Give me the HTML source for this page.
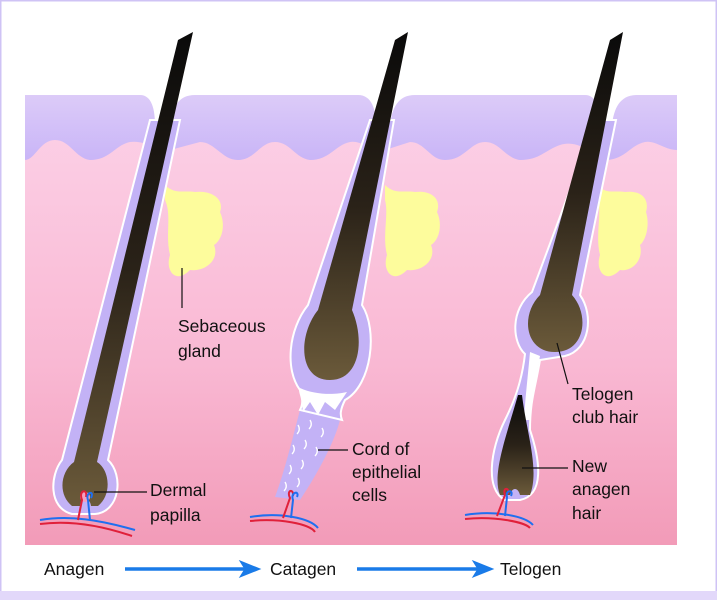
<!DOCTYPE html>
<html><head><style>
html,body{margin:0;padding:0;background:#fff}
svg{display:block}
text{font-family:"Liberation Sans",sans-serif;font-size:17.5px;fill:#111}
</style></head><body>
<svg width="717" height="600" viewBox="0 0 717 600" xmlns="http://www.w3.org/2000/svg">
<defs>
<linearGradient id="pk" x1="0" y1="0" x2="0" y2="1">
<stop offset="0" stop-color="#fcd2e8"/><stop offset="0.6" stop-color="#f9b8d3"/><stop offset="1" stop-color="#f29bb8"/>
</linearGradient>
<linearGradient id="lv" x1="0" y1="0" x2="0" y2="1">
<stop offset="0" stop-color="#dccbf8"/><stop offset="1" stop-color="#c9b5f7"/>
</linearGradient>
<linearGradient id="hr" x1="0" y1="0" x2="0" y2="1">
<stop offset="0" stop-color="#0a0a0a"/><stop offset="0.5" stop-color="#2a2218"/><stop offset="1" stop-color="#6b5a3a"/>
</linearGradient>
</defs>
<rect x="0.5" y="0.5" width="716" height="599" fill="#fff" stroke="#cfc3f5" stroke-width="2"/>
<rect x="0" y="591" width="717" height="9" fill="#e2d8fa"/>
<rect x="25" y="95" width="652" height="450" fill="url(#pk)"/>
<path d="M25 95 H677 V150 C665 150 655 140 645 142 C630 145 625 160 605 160 L600 160 C590 150 575 140 560 145 C545 150 540 160 520 160 C505 158 500 142 485 142 C470 142 465 160 445 160 C430 160 425 142 410 142 L385 150 C370 150 360 140 350 142 C335 145 330 160 310 160 C295 158 290 142 275 142 C260 142 255 160 238 160 C222 160 215 142 200 142 L170 150 C155 150 145 140 130 142 C115 145 110 160 90 160 C75 158 70 140 55 140 C40 140 35 160 25 160 Z" fill="url(#lv)"/>
<path d="M140 95 C152 95 155 110 155 125 L170 125 C172 108 178 95 195 95 Z" fill="#fff"/>
<path d="M358 95 C372 95 376 110 376 125 L390 125 C392 108 398 95 415 95 Z" fill="#fff"/>
<path d="M585 95 C597 95 600 110 600 125 L612 125 C614 108 620 95 637 95 Z" fill="#fff"/>
<g fill="#fdfc9c">
<path d="M165 185 C175 195 185 190 195 192 C210 190 225 198 220 212 C226 225 222 240 214 245 C220 260 205 272 190 270 C175 285 165 270 170 255 C165 235 172 215 165 200 Z"/>
<path d="M385 185 C395 195 405 190 415 192 C430 190 442 198 437 212 C443 225 439 240 431 245 C437 260 422 272 407 270 C392 285 382 270 387 255 C382 235 389 215 385 200 Z"/>
<path d="M598 185 C606 195 615 190 625 192 C640 190 650 198 646 212 C650 225 646 240 640 245 C644 260 632 272 620 270 C605 285 595 270 600 255 C595 235 602 215 598 200 Z"/>
</g>
<!-- follicle 1 -->
<path d="M150 120 L180 120 L108 460 C124 475 120 512 95 514 L72 514 C48 508 50 475 62 460 Z" fill="#c3b2f6" stroke="#fff" stroke-width="2"/>
<path d="M178 40 L193 32 L97 462 C110 470 112 495 98 506 L91 506 C90 497 81 497 80 506 L72 506 C58 495 60 472 74 462 Z" fill="url(#hr)"/>
<circle cx="85" cy="497" r="5" fill="#f4a0c0"/>
<!-- follicle 2 -->
<path d="M340 420 C335 440 320 470 300 500 L275 497 C285 470 292 440 300 410 Z" fill="#c3b2f6"/>
<g stroke="#fff" stroke-width="1.3" fill="none">
<path d="M298 425 q3 5 -1 9"/><path d="M310 420 q3 5 -1 9"/><path d="M322 428 q3 5 -1 9"/><path d="M293 445 q3 5 -1 9"/><path d="M305 440 q3 5 -1 9"/><path d="M316 447 q3 5 -1 9"/><path d="M290 465 q3 5 -1 9"/><path d="M302 460 q3 5 -1 9"/><path d="M285 482 q3 5 -1 9"/><path d="M298 478 q3 5 -1 9"/>
</g>
<path d="M370 120 L394 120 L362 305 C378 330 372 385 345 400 C340 410 340 415 342 420 L300 410 C305 400 300 395 300 390 C285 370 288 330 308 305 Z" fill="#c3b2f6" stroke="#fff" stroke-width="2"/>
<path d="M395 40 L408 32 L352 310 C365 340 360 380 330 380 C298 380 298 335 318 310 Z" fill="url(#hr)"/>
<path d="M300 388 C315 395 335 395 347 392 L335 410 L325 402 L318 415 L310 402 L303 412 Z" fill="#fff"/>
<!-- follicle 3 -->
<path d="M596 120 L616 120 L580 295 C594 315 590 350 565 356 L540 360 C535 390 530 400 530 430 C540 460 545 495 520 500 L505 500 C485 490 490 450 505 420 C515 400 522 380 525 354 C512 342 510 310 532 292 Z" fill="#c3b2f6" stroke="#fff" stroke-width="2"/>
<path d="M610 40 L623 32 L572 295 C590 315 585 352 555 352 C525 352 520 315 540 295 Z" fill="url(#hr)"/>
<path d="M530 352 L540 356 C536 380 530 405 530 420 L524 420 C525 400 528 375 530 352 Z" fill="#fff"/>
<path d="M518 395 L522 395 C526 430 540 470 530 495 L520 495 C518 487 512 487 510 495 L500 495 C492 475 505 440 518 395 Z" fill="url(#hr)"/>
<g fill="none" stroke-width="2">
<path d="M40 520 C70 515 100 520 135 530" stroke="#1f6ff0"/><path d="M40 524 C70 520 100 525 132 536" stroke="#e0203a"/>
<path d="M78 520 L82 500 C78 490 88 488 86 497" stroke="#e0203a"/><path d="M90 520 L88 500 C85 492 95 490 91 498" stroke="#1f6ff0"/>
<path d="M250 517 C280 512 310 518 318 528" stroke="#1f6ff0"/><path d="M250 521 C280 518 310 524 315 532" stroke="#e0203a"/>
<path d="M283 518 L290 498 C286 490 294 488 293 496" stroke="#e0203a"/><path d="M291 518 L293 500 C290 492 300 490 297 497" stroke="#1f6ff0"/>
<path d="M465 515 C495 510 525 516 533 525" stroke="#1f6ff0"/><path d="M465 519 C495 516 525 522 530 528" stroke="#e0203a"/>
<path d="M497 516 L505 495 C502 487 510 487 508 494" stroke="#e0203a"/><path d="M505 516 L507 497 C505 490 514 489 511 496" stroke="#1f6ff0"/>
</g>
<g stroke="#111" stroke-width="1.2">
<line x1="182" y1="268" x2="182" y2="308"/>
<line x1="94" y1="492" x2="147" y2="492"/>
<line x1="318" y1="450" x2="348" y2="450"/>
<line x1="557" y1="343" x2="568" y2="384"/>
<line x1="522" y1="468" x2="568" y2="468"/>
</g>
<text x="178" y="332">Sebaceous</text><text x="178" y="357">gland</text>
<text x="150" y="496">Dermal</text><text x="150" y="521">papilla</text>
<text x="352" y="455">Cord of</text><text x="352" y="478">epithelial</text><text x="352" y="501">cells</text>
<text x="572" y="400">Telogen</text><text x="572" y="423">club hair</text>
<text x="572" y="472">New</text><text x="572" y="495">anagen</text><text x="572" y="519">hair</text>
<text x="44" y="575">Anagen</text><text x="270" y="575">Catagen</text><text x="500" y="575">Telogen</text>
<g fill="#1a7be8" stroke="#1a7be8">
<line x1="125" y1="569" x2="245" y2="569" stroke-width="3.5"/><path d="M240 561 L260 569 L240 577 L245 569 Z"/>
<line x1="357" y1="569" x2="478" y2="569" stroke-width="3.5"/><path d="M473 561 L493 569 L473 577 L478 569 Z"/>
</g>
</svg>
</body></html>
